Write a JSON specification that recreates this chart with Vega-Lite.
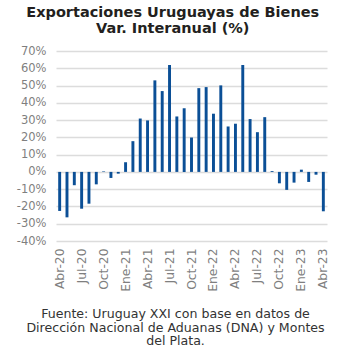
{
  "$schema": "https://vega.github.io/schema/vega-lite/v6.json",
  "width": 271,
  "height": 190,
  "autosize": "none",
  "padding": {"left": 56, "top": 51, "right": 23, "bottom": 110},
  "background": "white",
  "title": {
    "text": ["Exportaciones Uruguayas de Bienes", "Var. Interanual (%)"],
    "font": "DejaVu Sans",
    "fontSize": 14.5,
    "fontWeight": "bold",
    "color": "#231f20",
    "lineHeight": 16,
    "offset": 9,
    "anchor": "middle",
    "frame": "bounds"
  },
  "data": {
    "values": [
      {"mes": "Abr-20", "var": -22.6},
      {"mes": "May-20", "var": -26.3},
      {"mes": "Jun-20", "var": -7.7},
      {"mes": "Jul-20", "var": -21.3},
      {"mes": "Ago-20", "var": -18.4},
      {"mes": "Sep-20", "var": -7.2},
      {"mes": "Oct-20", "var": 0.3},
      {"mes": "Nov-20", "var": -3.5},
      {"mes": "Dic-20", "var": -1.0},
      {"mes": "Ene-21", "var": 5.6},
      {"mes": "Feb-21", "var": 17.8},
      {"mes": "Mar-21", "var": 30.9},
      {"mes": "Abr-21", "var": 29.8},
      {"mes": "May-21", "var": 53.0},
      {"mes": "Jun-21", "var": 46.8},
      {"mes": "Jul-21", "var": 61.9},
      {"mes": "Ago-21", "var": 32.1},
      {"mes": "Sep-21", "var": 36.8},
      {"mes": "Oct-21", "var": 19.9},
      {"mes": "Nov-21", "var": 48.5},
      {"mes": "Dic-21", "var": 49.1},
      {"mes": "Ene-22", "var": 33.7},
      {"mes": "Feb-22", "var": 50.1},
      {"mes": "Mar-22", "var": 26.3},
      {"mes": "Abr-22", "var": 27.9},
      {"mes": "May-22", "var": 61.9},
      {"mes": "Jun-22", "var": 30.6},
      {"mes": "Jul-22", "var": 23.0},
      {"mes": "Ago-22", "var": 31.7},
      {"mes": "Sep-22", "var": 0.5},
      {"mes": "Oct-22", "var": -6.6},
      {"mes": "Nov-22", "var": -10.4},
      {"mes": "Dic-22", "var": -6.2},
      {"mes": "Ene-23", "var": 1.3},
      {"mes": "Feb-23", "var": -5.8},
      {"mes": "Mar-23", "var": -1.6},
      {"mes": "Abr-23", "var": -22.8}
    ]
  },
  "mark": {"type": "bar", "color": "#0b4f96"},
  "encoding": {
    "x": {
      "field": "mes",
      "type": "ordinal",
      "sort": null,
      "scale": {"paddingInner": 0.6, "paddingOuter": 0.3},
      "axis": {
        "values": ["Abr-20", "Jul-20", "Oct-20", "Ene-21", "Abr-21", "Jul-21", "Oct-21", "Ene-22", "Abr-22", "Jul-22", "Oct-22", "Ene-23", "Abr-23"],
        "labelAngle": -90,
        "labelFont": "DejaVu Sans",
        "labelFontSize": 12.3,
        "labelColor": "#7f7f7f",
        "labelPadding": 7,
        "ticks": false,
        "domain": false,
        "title": ["Fuente: Uruguay XXI con base en datos de", "Dirección Nacional de Aduanas (DNA) y Montes", "del Plata."],
        "titleFont": "DejaVu Sans",
        "titleFontSize": 12.6,
        "titleFontWeight": "normal",
        "titleColor": "#333333",
        "titleLineHeight": 13.8,
        "titlePadding": 16,
        "titleX": 119
      }
    },
    "y": {
      "field": "var",
      "type": "quantitative",
      "scale": {"domain": [-40, 70], "nice": false},
      "axis": {
        "values": [-40, -30, -20, -10, 0, 10, 20, 30, 40, 50, 60, 70],
        "labelExpr": "datum.value + '%'",
        "labelFont": "DejaVu Sans",
        "labelFontSize": 11.5,
        "labelColor": "#7f7f7f",
        "labelPadding": 10,
        "ticks": false,
        "domain": false,
        "grid": true,
        "gridColor": "#dcdcdc",
        "gridWidth": 1.5,
        "title": null
      }
    }
  },
  "config": {"view": {"stroke": null}}
}
